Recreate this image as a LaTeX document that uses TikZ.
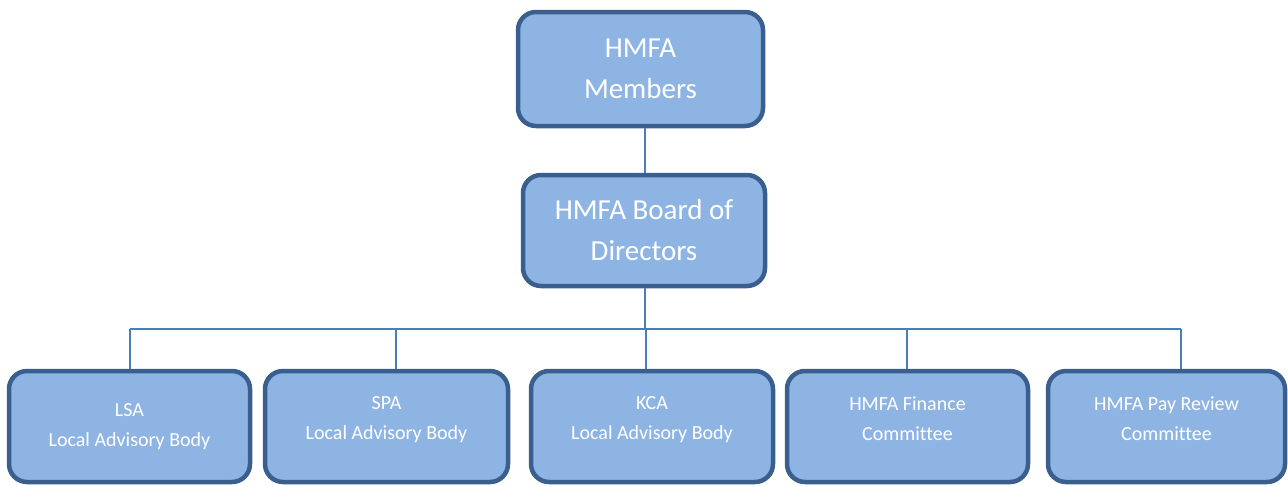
\documentclass[tikz,border=0pt]{standalone}
\usepackage{fontspec}
\setmainfont{Carlito}[Ligatures=CommonOff]
\definecolor{boxfill}{HTML}{8EB4E3}
\definecolor{boxline}{HTML}{3A5F8E}
\definecolor{linkblue}{HTML}{4A7EBB}
\begin{document}
\begin{tikzpicture}[x=1pt,y=-1pt,
  box/.style={draw=boxline, fill=boxfill, line width=4.5pt, rounded corners=18pt,
    text=white, align=center, inner sep=0pt},
  bigbox/.style={box, font=\fontsize{29}{41}\selectfont},
  smallbox/.style={box, minimum height=111pt, font=\fontsize{20}{30}\selectfont},
  link/.style={draw=linkblue, line width=1.5pt}]
\useasboundingbox (0,0) rectangle (1288,485);

% Draw the two upper boxes
\node[bigbox, minimum width=245pt, minimum height=114pt] (M) at (640.5,69) {HMFA\\Members};
\node[bigbox, minimum width=242pt, minimum height=111pt] (D) at (644,230.5) {HMFA Board of\\Directors};

% Draw the bottom row
\node[smallbox, minimum width=241pt] (LSA) at (129.5,426.5) {LSA\\Local Advisory Body};
\node[smallbox, minimum width=243pt, text depth=16pt] (SPA) at (386.5,426.5) {SPA\\Local Advisory Body};
\node[smallbox, minimum width=242pt, text depth=16pt] (KCA) at (652,426.5) {KCA\\Local Advisory Body};
\node[smallbox, minimum width=241pt, text depth=16pt] (FC) at (907.5,426.5) {HMFA Finance\\Committee};
\node[smallbox, minimum width=237pt, text depth=16pt] (PRC) at (1166.5,426.5) {HMFA Pay Review\\Committee};

% Junction points on the horizontal bar
\coordinate (J) at (645,329);
\coordinate (T1) at (130,329);
\coordinate (T2) at (396,329);
\coordinate (T3) at (646,329);
\coordinate (T4) at (907,329);
\coordinate (T5) at (1181,329);

% Draw the connectors
\draw[link] (M.south -| J) -- (D.north -| J);
\draw[link] (D.south -| J) -- (J);
\draw[link] (T1) -- (T5);
\draw[link] (T1) -- (T1 |- LSA.north);
\draw[link] (T2) -- (T2 |- SPA.north);
\draw[link] (T3) -- (T3 |- KCA.north);
\draw[link] (T4) -- (T4 |- FC.north);
\draw[link] (T5) -- (T5 |- PRC.north);

\end{tikzpicture}
\end{document}
